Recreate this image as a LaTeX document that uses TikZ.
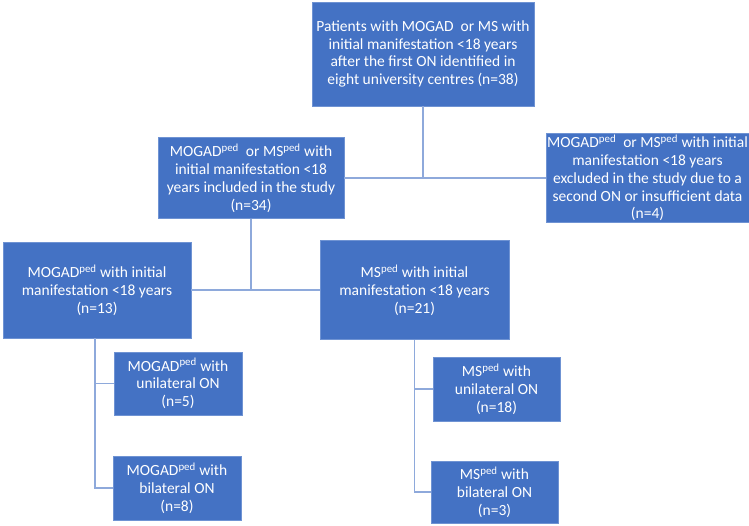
\documentclass[tikz,border=0pt]{standalone}
\usepackage{fontspec}
\setmainfont{Carlito}
\usetikzlibrary{positioning}
\definecolor{boxblue}{HTML}{4472C4}
\definecolor{boxedge}{HTML}{6F93D3}
\definecolor{linkblue}{HTML}{8EA9DB}

\begin{document}
\begin{tikzpicture}[x=1pt,y=-1pt,
	box/.style={rectangle,draw=boxedge,fill=boxblue,text=white,align=center,inner sep=0pt,line width=0.8pt,font=\fontsize{15.5}{17.8}\selectfont},
	link/.style={draw=linkblue,line width=1.4pt}]
			
			\useasboundingbox (0,0) rectangle (749,525);
			
			% Boxes
			\node[box,minimum width=222pt,minimum height=104pt] (top) at (423,54) {Patients with MOGAD\ \ or MS with\\initial manifestation <18 years\\after the first ON identified in\\eight university centres (n=38)};
			\node[box,minimum width=186pt,minimum height=81pt] (incl) at (251,178) {MOGAD\textsuperscript{ped}\ \ or MS\textsuperscript{ped} with\\initial manifestation <18\\years included in the study\\(n=34)};
			\node[box,minimum width=203pt,minimum height=89pt] (excl) at (647.5,178) {MOGAD\textsuperscript{ped}\ \ or MS\textsuperscript{ped} with initial\\manifestation <18 years\\excluded in the study due to a\\second ON or insufficient data\\(n=4)};
			\node[box,minimum width=188pt,minimum height=96pt] (mog) at (97,290) {MOGAD\textsuperscript{ped} with initial\\manifestation <18 years\\(n=13)};
			\node[box,minimum width=189pt,minimum height=99pt] (ms) at (414.5,290) {MS\textsuperscript{ped} with initial\\manifestation <18 years\\(n=21)};
			\node[box,minimum width=128pt,minimum height=63pt] (mogU) at (178,383.5) {MOGAD\textsuperscript{ped} with\\unilateral ON\\(n=5)};
			\node[box,minimum width=128pt,minimum height=64pt] (mogB) at (177,488) {MOGAD\textsuperscript{ped} with\\bilateral ON\\(n=8)};
			\node[box,minimum width=127pt,minimum height=64pt] (msU) at (496.5,389) {MS\textsuperscript{ped} with\\unilateral ON\\(n=18)};
			\node[box,minimum width=127pt,minimum height=62pt] (msB) at (494.5,492) {MS\textsuperscript{ped} with\\bilateral ON\\(n=3)};
			
			% Connectors
			\draw[link] (incl.east) -- (excl.west);
			\draw[link] (top.south) -- (top.south |- incl.east);
			\draw[link] (mog.east) -- (ms.west);
			\draw[link] (incl.south) -- (incl.south |- mog.east);
			\draw[link] ([xshift=-2pt]mog.south) |- (mogU.west);
			\draw[link] ([xshift=-2pt]mog.south) |- (mogB.west);
			\draw[link] (ms.south) |- (msU.west);
			\draw[link] (ms.south) |- (msB.west);
			
		\end{tikzpicture}
\end{document}
